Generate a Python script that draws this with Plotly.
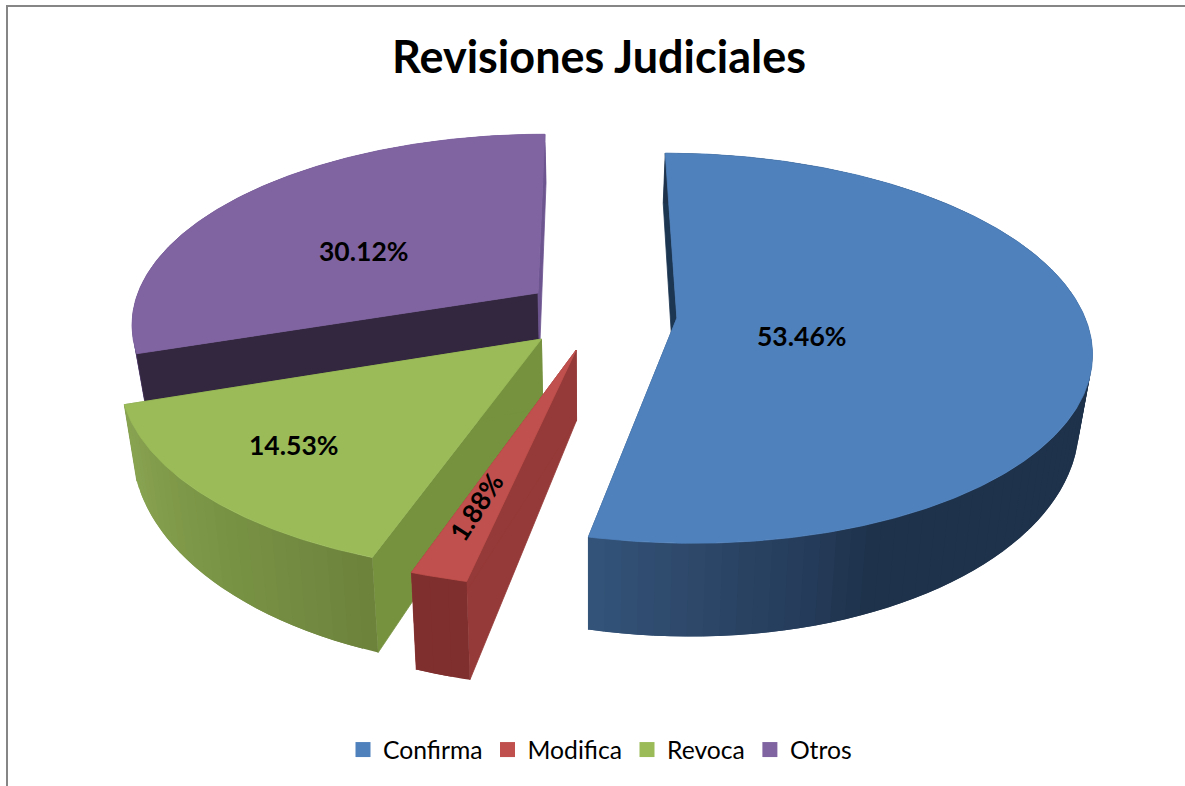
import numpy as np
import plotly.graph_objects as go

# ---- data ----
categories = ["Confirma", "Modifica", "Revoca", "Otros"]
values = [53.46, 1.88, 14.53, 30.12]
title_text = "Revisiones Judiciales"

# ---- style ----
face_colors = ["#4f81bd", "#c0504d", "#9bbb59", "#8064a2"]
start_wall_colors = ["#1c3550", "#953a38", "#76923f", "#33273f"]
end_wall_colors = ["#2f5078", "#953a38", "#76923f", "#6d5590"]
# rim shading: (angle in degrees clockwise from top, rgb)
rim_stops = [
    [(0, (30, 50, 75)), (158, (30, 50, 75)), (166, (37, 60, 90)), (180, (45, 72, 106)), (193, (52, 84, 122))],
    [(192, (127, 47, 46)), (200, (127, 47, 46))],
    [(199, (108, 130, 60)), (220, (120, 146, 68)), (252, (138, 165, 82))],
    [(250, (92, 72, 122)), (275, (88, 68, 116)), (360, (109, 85, 144))],
]
explode = [(0.2127, -0.01), (-0.033, 0.1534), (-0.117, 0.0985), (-0.13, -0.1445)]
draw_order = [3, 0, 2, 1]
walls_over_rim = [False, False, False, True]
label_r = [0.30, 0.74, 0.73, 0.50]
label_shift = [(2, -12), (-3, 4), (-8, 4), (-21, -9)]
label_angle = [0, -57, 0, 0]

# projection of the pseudo-3D pie onto page-sized axes
CX, CY, A, B, K, H, D = 590, 320, 409, 191, 0.1545, 67, 0.027
W, PH = 1185, 786


def project(x, y, low=False):
    x, y = np.asarray(x, float), np.asarray(y, float)
    s = 1 / (1 - K * y)
    px = CX + A * x * s * ((1 - D) if low else 1)
    py = CY + B * y * s + (H * s * s if low else 0)
    return px, py


def hexrgb(c):
    return "rgb(%d,%d,%d)" % tuple(int(round(v)) for v in c)


def poly(px, py, color, width=0.8):
    return go.Scatter(
        x=list(px) + [px[0]], y=list(py) + [py[0]], mode="lines", fill="toself",
        fillcolor=color, line=dict(color=color, width=width), hoverinfo="skip", showlegend=False,
    )


total = sum(values)
edges = np.concatenate([[0], np.cumsum(values) / total * 360])
fig = go.Figure()
rad = np.radians


def add_walls(i, t0, t1, ox, oy):
    for t, col in ((t0, start_wall_colors[i]), (t1, end_wall_colors[i])):
        xs, ys = ox + np.sin(rad(t)), oy - np.cos(rad(t))
        a_t = project([ox, xs], [oy, ys])
        a_b = project([ox, xs], [oy, ys], low=True)
        fig.add_trace(poly([a_t[0][0], a_t[0][1], a_b[0][1], a_b[0][0]],
                           [a_t[1][0], a_t[1][1], a_b[1][1], a_b[1][0]], col))


def add_rim(i, t0, t1, ox, oy):
    # shaded strips, each one overlapping the next so that no seam shows
    n = max(3, int((t1 - t0) / 2.0))
    tt = np.linspace(t0, t1, n + 1)
    st = rim_stops[i]
    for j in range(n):
        seg = np.linspace(tt[j], tt[min(j + 2, n)], 6)
        xs, ys = ox + np.sin(rad(seg)), oy - np.cos(rad(seg))
        pt = project(xs, ys)
        pb = project(xs, ys, low=True)
        m = 0.5 * (tt[j] + tt[j + 1])
        col = [np.interp(m, [s[0] for s in st], [s[1][c] for s in st]) for c in range(3)]
        fig.add_trace(poly(list(pt[0]) + list(pb[0][::-1]), list(pt[1]) + list(pb[1][::-1]), hexrgb(col), width=0))


for i in draw_order:
    t0, t1 = edges[i], edges[i + 1]
    ox, oy = explode[i]
    if walls_over_rim[i]:
        add_rim(i, t0, t1, ox, oy)
        add_walls(i, t0, t1, ox, oy)
    else:
        add_walls(i, t0, t1, ox, oy)
        add_rim(i, t0, t1, ox, oy)
    # top face
    seg = np.linspace(t0, t1, max(4, int(t1 - t0) * 2))
    xs = np.concatenate([[ox], ox + np.sin(rad(seg))])
    ys = np.concatenate([[oy], oy - np.cos(rad(seg))])
    pf = project(xs, ys)
    fig.add_trace(poly(pf[0], pf[1], face_colors[i]))

# legend entries
for name, col in zip(categories, face_colors):
    fig.add_trace(go.Scatter(x=[None], y=[None], mode="markers", name=name,
                             marker=dict(symbol="square", size=15, color=col)))

# labels
for i, v in enumerate(values):
    mid = np.radians(0.5 * (edges[i] + edges[i + 1]))
    ox, oy = explode[i]
    lx, ly = project(ox + label_r[i] * np.sin(mid), oy - label_r[i] * np.cos(mid))
    fig.add_annotation(x=float(lx), y=float(ly), text=f"{v:.2f}%", showarrow=False,
                       textangle=label_angle[i], xshift=label_shift[i][0], yshift=label_shift[i][1],
                       font=dict(family="Lato", size=26.5, color="black", weight="bold"))

fig.update_layout(
    width=W, height=PH, margin=dict(l=0, r=0, t=0, b=0),
    paper_bgcolor="white", plot_bgcolor="white",
    xaxis=dict(range=[0, W], visible=False, fixedrange=True),
    yaxis=dict(range=[PH, 0], visible=False, fixedrange=True),
    title=dict(text=title_text, x=599 / W, y=1 - 57 / PH, xanchor="center", yanchor="middle",
               font=dict(family="Lato", size=45, color="black", weight="bold")),
    legend=dict(orientation="h", x=600 / W, y=1 - 750 / PH, xanchor="center", yanchor="middle",
                font=dict(family="Lato", size=24.7, color="black"), bgcolor="rgba(0,0,0,0)"),
    shapes=[dict(type="rect", xref="x", yref="y", x0=7, y0=6, x1=W + 20, y1=PH + 20,
                 line=dict(color="#868686", width=2), fillcolor="rgba(0,0,0,0)", layer="below")],
)
fig.write_html("out.html", config={"displayModeBar": False},
               post_script="document.body.style.margin='0';document.body.style.overflow='hidden';")
